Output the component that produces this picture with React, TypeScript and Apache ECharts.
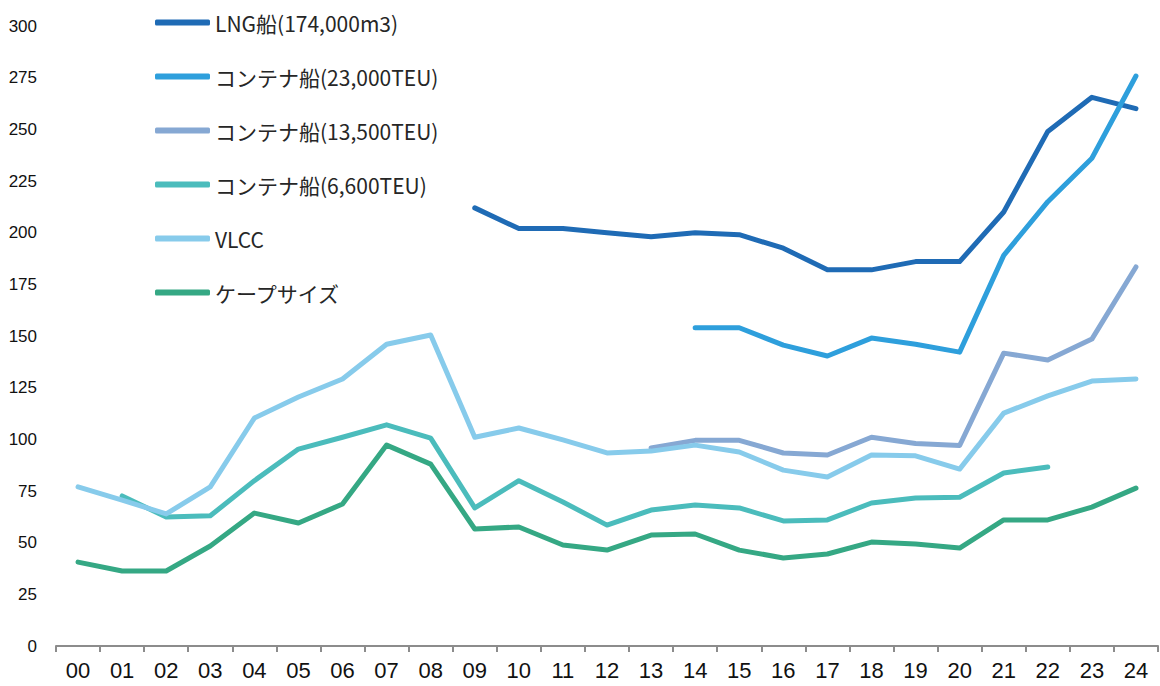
import React, { useEffect, useRef } from "react";
import * as echarts from "echarts";

const years = ["00","01","02","03","04","05","06","07","08","09","10","11","12","13","14","15","16","17","18","19","20","21","22","23","24"];

const lng = [null,null,null,null,null,null,null,null,null,212,202,202,200,198,200,199,192.5,182,182,186,186,210,249,265.5,260];
const cont23000 = [null,null,null,null,null,null,null,null,null,null,null,null,null,null,154,154,145.6,140.3,149,146,142.2,189,215,236,275.8];
const cont13500 = [null,null,null,null,null,null,null,null,null,null,null,null,null,95.8,99.5,99.5,93.4,92.4,101,98,97,141.7,138.4,148.5,183.4];
const cont6600 = [null,72.6,62.4,63,80,95.3,101,107,100.6,66.8,80,69.7,58.5,65.8,68.2,66.8,60.5,61,69.2,71.6,72,83.7,86.6,null,null];
const vlcc = [77,70.6,63.9,77,110.3,120.5,129.2,146,150.5,101,105.5,99.7,93.4,94.3,97.2,93.9,85.1,81.8,92.4,92,85.6,112.7,121,128.2,129.2];
const cape = [40.6,36.3,36.3,48.4,64.3,59.5,68.7,97.2,88,56.6,57.6,48.9,46.4,53.7,54.2,46.4,42.6,44.5,50.3,49.3,47.4,61,61,67.2,76.4];

const seriesNames = ["LNG船(174,000m3)","コンテナ船(23,000TEU)","コンテナ船(13,500TEU)","コンテナ船(6,600TEU)","VLCC","ケープサイズ"];
const seriesData = [lng, cont23000, cont13500, cont6600, vlcc, cape];
const colors = ["#1f6bb5","#2e9fdc","#86a8d3","#4bbcbc","#87cbeb","#35a884"];

export default function App() {
  const ref = useRef<HTMLDivElement>(null);
  useEffect(() => {
    if (!ref.current) return;
    const chart = echarts.init(ref.current, null, { renderer: "svg" });
    chart.setOption({
      animation: false,
      backgroundColor: "#ffffff",
      grid: { left: 56, right: 2, top: 26, bottom: 40, containLabel: false },
      legend: {
        orient: "vertical",
        left: 150,
        top: 7,
        itemWidth: 55,
        itemHeight: 6,
        itemGap: 33,
        icon: "roundRect",
        textStyle: { fontFamily: "Noto Sans CJK JP", fontSize: 21, color: "#262626", lineHeight: 21 },
        data: seriesNames,
      },
      xAxis: {
        type: "category",
        data: years,
        boundaryGap: true,
        axisLine: { lineStyle: { color: "#8c8c8c", width: 2 } },
        axisTick: { show: true, length: 6, lineStyle: { color: "#8c8c8c", width: 2 } },
        axisLabel: { fontFamily: "Liberation Sans", fontSize: 22, color: "#111", margin: 13, interval: 0 },
        splitLine: { show: false },
      },
      yAxis: {
        type: "value",
        min: 0,
        max: 300,
        interval: 25,
        axisLine: { show: false },
        axisTick: { show: false },
        splitLine: { show: false },
        axisLabel: { fontFamily: "Liberation Sans", fontSize: 17, color: "#111", margin: 19 },
      },
      series: seriesData.map((d, i) => ({
        name: seriesNames[i],
        type: "line",
        data: d,
        symbol: "none",
        connectNulls: false,
        itemStyle: { color: colors[i] },
        lineStyle: { color: colors[i], width: 5, cap: "round", join: "round" },
      })),
    });
    return () => chart.dispose();
  }, []);
  return <div ref={ref} style={{ position: "fixed", left: 0, top: 0, width: 1160, height: 686 }} />;
}
